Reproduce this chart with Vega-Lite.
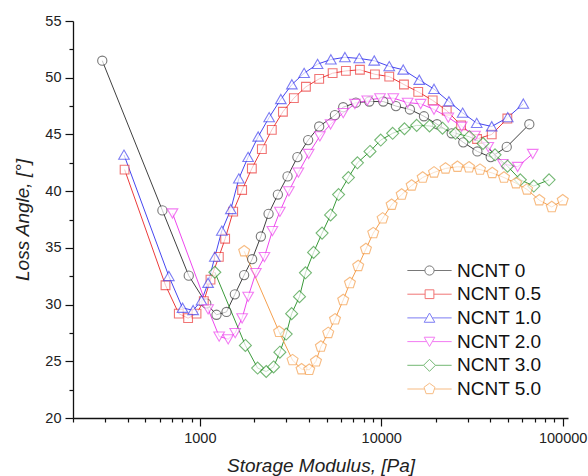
{
  "$schema": "https://vega.github.io/schema/vega-lite/v6.json",
  "width": 495,
  "height": 397,
  "autosize": "none",
  "padding": {"left": 73, "top": 21, "right": 20, "bottom": 58},
  "background": "white",
  "config": {
    "view": {"stroke": null},
    "font": "Liberation Sans",
    "axis": {"domainColor": "#111", "domainWidth": 1.3, "tickColor": "#111", "tickWidth": 1.2, "labelColor": "#222", "labelFont": "Liberation Sans", "labelFontSize": 14.5, "titleFont": "Liberation Sans", "titleFontSize": 19, "titleFontStyle": "italic", "titleFontWeight": "normal", "titleColor": "#222", "grid": false}
  },
  "data": {
    "values": [
      {"s": "NCNT 0", "x": 290, "y": 51.5}, {"s": "NCNT 0", "x": 622, "y": 38.3}, {"s": "NCNT 0", "x": 869, "y": 32.55}, {"s": "NCNT 0", "x": 1085, "y": 30.1}, {"s": "NCNT 0", "x": 1236, "y": 29.1}, {"s": "NCNT 0", "x": 1403, "y": 29.35}, {"s": "NCNT 0", "x": 1560, "y": 30.9}, {"s": "NCNT 0", "x": 1755, "y": 32.6}, {"s": "NCNT 0", "x": 1943, "y": 34.0}, {"s": "NCNT 0", "x": 2170, "y": 36.0}, {"s": "NCNT 0", "x": 2393, "y": 38.0}, {"s": "NCNT 0", "x": 2693, "y": 39.7}, {"s": "NCNT 0", "x": 3045, "y": 41.3}, {"s": "NCNT 0", "x": 3450, "y": 43.0}, {"s": "NCNT 0", "x": 3955, "y": 44.5}, {"s": "NCNT 0", "x": 4550, "y": 45.7}, {"s": "NCNT 0", "x": 5555, "y": 46.7}, {"s": "NCNT 0", "x": 6170, "y": 47.4}, {"s": "NCNT 0", "x": 7250, "y": 47.8}, {"s": "NCNT 0", "x": 8590, "y": 47.9}, {"s": "NCNT 0", "x": 10260, "y": 47.9}, {"s": "NCNT 0", "x": 12050, "y": 47.5}, {"s": "NCNT 0", "x": 14390, "y": 47.2}, {"s": "NCNT 0", "x": 17200, "y": 46.6}, {"s": "NCNT 0", "x": 20300, "y": 45.9}, {"s": "NCNT 0", "x": 24450, "y": 45.1}, {"s": "NCNT 0", "x": 28330, "y": 44.3}, {"s": "NCNT 0", "x": 33870, "y": 43.5}, {"s": "NCNT 0", "x": 40120, "y": 43.0}, {"s": "NCNT 0", "x": 49170, "y": 43.9}, {"s": "NCNT 0", "x": 65500, "y": 45.9},

      {"s": "NCNT 0.5", "x": 385, "y": 41.9}, {"s": "NCNT 0.5", "x": 647, "y": 31.7}, {"s": "NCNT 0.5", "x": 766, "y": 29.2}, {"s": "NCNT 0.5", "x": 862, "y": 28.8}, {"s": "NCNT 0.5", "x": 959, "y": 29.2}, {"s": "NCNT 0.5", "x": 1052, "y": 30.3}, {"s": "NCNT 0.5", "x": 1145, "y": 32.2}, {"s": "NCNT 0.5", "x": 1273, "y": 34.2}, {"s": "NCNT 0.5", "x": 1379, "y": 35.8}, {"s": "NCNT 0.5", "x": 1527, "y": 38.2}, {"s": "NCNT 0.5", "x": 1711, "y": 40.1}, {"s": "NCNT 0.5", "x": 1936, "y": 42.0}, {"s": "NCNT 0.5", "x": 2198, "y": 43.7}, {"s": "NCNT 0.5", "x": 2494, "y": 45.4}, {"s": "NCNT 0.5", "x": 2871, "y": 47.0}, {"s": "NCNT 0.5", "x": 3299, "y": 48.2}, {"s": "NCNT 0.5", "x": 3845, "y": 49.2}, {"s": "NCNT 0.5", "x": 4550, "y": 49.9}, {"s": "NCNT 0.5", "x": 5397, "y": 50.4}, {"s": "NCNT 0.5", "x": 6386, "y": 50.6}, {"s": "NCNT 0.5", "x": 7629, "y": 50.7}, {"s": "NCNT 0.5", "x": 9228, "y": 50.3}, {"s": "NCNT 0.5", "x": 11070, "y": 50.1}, {"s": "NCNT 0.5", "x": 13340, "y": 49.4}, {"s": "NCNT 0.5", "x": 15990, "y": 48.75}, {"s": "NCNT 0.5", "x": 19210, "y": 48.0}, {"s": "NCNT 0.5", "x": 22960, "y": 47.1}, {"s": "NCNT 0.5", "x": 27540, "y": 45.8}, {"s": "NCNT 0.5", "x": 33740, "y": 44.6}, {"s": "NCNT 0.5", "x": 40640, "y": 45.0}, {"s": "NCNT 0.5", "x": 49550, "y": 46.4},

      {"s": "NCNT 1.0", "x": 382, "y": 43.2}, {"s": "NCNT 1.0", "x": 675, "y": 32.5}, {"s": "NCNT 1.0", "x": 803, "y": 29.7}, {"s": "NCNT 1.0", "x": 919, "y": 29.5}, {"s": "NCNT 1.0", "x": 1022, "y": 30.35}, {"s": "NCNT 1.0", "x": 1111, "y": 31.9}, {"s": "NCNT 1.0", "x": 1210, "y": 34.2}, {"s": "NCNT 1.0", "x": 1322, "y": 36.5}, {"s": "NCNT 1.0", "x": 1483, "y": 38.4}, {"s": "NCNT 1.0", "x": 1641, "y": 41.1}, {"s": "NCNT 1.0", "x": 1846, "y": 43.0}, {"s": "NCNT 1.0", "x": 2097, "y": 44.8}, {"s": "NCNT 1.0", "x": 2411, "y": 46.5}, {"s": "NCNT 1.0", "x": 2797, "y": 48.1}, {"s": "NCNT 1.0", "x": 3217, "y": 49.4}, {"s": "NCNT 1.0", "x": 3758, "y": 50.4}, {"s": "NCNT 1.0", "x": 4457, "y": 51.2}, {"s": "NCNT 1.0", "x": 5278, "y": 51.6}, {"s": "NCNT 1.0", "x": 6308, "y": 51.8}, {"s": "NCNT 1.0", "x": 7566, "y": 51.7}, {"s": "NCNT 1.0", "x": 9150, "y": 51.5}, {"s": "NCNT 1.0", "x": 11070, "y": 51.0}, {"s": "NCNT 1.0", "x": 13220, "y": 50.7}, {"s": "NCNT 1.0", "x": 16200, "y": 49.8}, {"s": "NCNT 1.0", "x": 19540, "y": 49.0}, {"s": "NCNT 1.0", "x": 23620, "y": 47.9}, {"s": "NCNT 1.0", "x": 28100, "y": 46.9}, {"s": "NCNT 1.0", "x": 33580, "y": 46.0}, {"s": "NCNT 1.0", "x": 40640, "y": 45.7}, {"s": "NCNT 1.0", "x": 49800, "y": 46.5}, {"s": "NCNT 1.0", "x": 60700, "y": 47.7},

      {"s": "NCNT 2.0", "x": 707, "y": 38.05}, {"s": "NCNT 2.0", "x": 1111, "y": 29.6}, {"s": "NCNT 2.0", "x": 1278, "y": 27.2}, {"s": "NCNT 2.0", "x": 1433, "y": 26.95}, {"s": "NCNT 2.0", "x": 1566, "y": 27.5}, {"s": "NCNT 2.0", "x": 1711, "y": 28.8}, {"s": "NCNT 2.0", "x": 1847, "y": 30.7}, {"s": "NCNT 2.0", "x": 2037, "y": 32.8}, {"s": "NCNT 2.0", "x": 2270, "y": 34.2}, {"s": "NCNT 2.0", "x": 2512, "y": 36.5}, {"s": "NCNT 2.0", "x": 2762, "y": 38.2}, {"s": "NCNT 2.0", "x": 3097, "y": 40.0}, {"s": "NCNT 2.0", "x": 3494, "y": 41.65}, {"s": "NCNT 2.0", "x": 3982, "y": 43.3}, {"s": "NCNT 2.0", "x": 4589, "y": 44.85}, {"s": "NCNT 2.0", "x": 5258, "y": 45.9}, {"s": "NCNT 2.0", "x": 6171, "y": 46.9}, {"s": "NCNT 2.0", "x": 7158, "y": 47.7}, {"s": "NCNT 2.0", "x": 8373, "y": 48.0}, {"s": "NCNT 2.0", "x": 9843, "y": 48.2}, {"s": "NCNT 2.0", "x": 11650, "y": 48.2}, {"s": "NCNT 2.0", "x": 13985, "y": 47.8}, {"s": "NCNT 2.0", "x": 16490, "y": 47.7}, {"s": "NCNT 2.0", "x": 19540, "y": 47.2}, {"s": "NCNT 2.0", "x": 23420, "y": 46.5}, {"s": "NCNT 2.0", "x": 27770, "y": 45.7}, {"s": "NCNT 2.0", "x": 32870, "y": 44.9}, {"s": "NCNT 2.0", "x": 38900, "y": 43.9}, {"s": "NCNT 2.0", "x": 46770, "y": 42.4}, {"s": "NCNT 2.0", "x": 56500, "y": 42.15}, {"s": "NCNT 2.0", "x": 68390, "y": 43.3},

      {"s": "NCNT 3.0", "x": 1210, "y": 32.85}, {"s": "NCNT 3.0", "x": 1783, "y": 26.4}, {"s": "NCNT 3.0", "x": 2083, "y": 24.4}, {"s": "NCNT 3.0", "x": 2323, "y": 24.1}, {"s": "NCNT 3.0", "x": 2550, "y": 24.5}, {"s": "NCNT 3.0", "x": 2762, "y": 25.8}, {"s": "NCNT 3.0", "x": 2993, "y": 27.4}, {"s": "NCNT 3.0", "x": 3208, "y": 29.2}, {"s": "NCNT 3.0", "x": 3543, "y": 30.7}, {"s": "NCNT 3.0", "x": 3822, "y": 32.8}, {"s": "NCNT 3.0", "x": 4238, "y": 34.6}, {"s": "NCNT 3.0", "x": 4720, "y": 36.3}, {"s": "NCNT 3.0", "x": 5258, "y": 37.9}, {"s": "NCNT 3.0", "x": 5820, "y": 39.7}, {"s": "NCNT 3.0", "x": 6594, "y": 41.2}, {"s": "NCNT 3.0", "x": 7392, "y": 42.5}, {"s": "NCNT 3.0", "x": 8670, "y": 43.5}, {"s": "NCNT 3.0", "x": 9935, "y": 44.5}, {"s": "NCNT 3.0", "x": 11560, "y": 45.1}, {"s": "NCNT 3.0", "x": 13430, "y": 45.5}, {"s": "NCNT 3.0", "x": 15680, "y": 45.8}, {"s": "NCNT 3.0", "x": 18450, "y": 45.75}, {"s": "NCNT 3.0", "x": 21760, "y": 45.55}, {"s": "NCNT 3.0", "x": 25650, "y": 45.1}, {"s": "NCNT 3.0", "x": 30590, "y": 44.8}, {"s": "NCNT 3.0", "x": 36390, "y": 44.2}, {"s": "NCNT 3.0", "x": 42390, "y": 43.2}, {"s": "NCNT 3.0", "x": 49660, "y": 42.2}, {"s": "NCNT 3.0", "x": 58430, "y": 41.0}, {"s": "NCNT 3.0", "x": 69280, "y": 40.45}, {"s": "NCNT 3.0", "x": 84140, "y": 41.0},

      {"s": "NCNT 5.0", "x": 1756, "y": 34.7}, {"s": "NCNT 5.0", "x": 2735, "y": 27.6}, {"s": "NCNT 5.0", "x": 3245, "y": 25.1}, {"s": "NCNT 5.0", "x": 3638, "y": 24.3}, {"s": "NCNT 5.0", "x": 4009, "y": 24.25}, {"s": "NCNT 5.0", "x": 4368, "y": 25.0}, {"s": "NCNT 5.0", "x": 4649, "y": 26.3}, {"s": "NCNT 5.0", "x": 5102, "y": 27.5}, {"s": "NCNT 5.0", "x": 5560, "y": 28.7}, {"s": "NCNT 5.0", "x": 6171, "y": 30.4}, {"s": "NCNT 5.0", "x": 6720, "y": 31.9}, {"s": "NCNT 5.0", "x": 7464, "y": 33.4}, {"s": "NCNT 5.0", "x": 8234, "y": 34.9}, {"s": "NCNT 5.0", "x": 9035, "y": 36.3}, {"s": "NCNT 5.0", "x": 10180, "y": 37.6}, {"s": "NCNT 5.0", "x": 11410, "y": 38.8}, {"s": "NCNT 5.0", "x": 12960, "y": 39.7}, {"s": "NCNT 5.0", "x": 14710, "y": 40.5}, {"s": "NCNT 5.0", "x": 16920, "y": 41.2}, {"s": "NCNT 5.0", "x": 19540, "y": 41.65}, {"s": "NCNT 5.0", "x": 22610, "y": 42.0}, {"s": "NCNT 5.0", "x": 26300, "y": 42.15}, {"s": "NCNT 5.0", "x": 30460, "y": 42.1}, {"s": "NCNT 5.0", "x": 35030, "y": 41.9}, {"s": "NCNT 5.0", "x": 40930, "y": 41.6}, {"s": "NCNT 5.0", "x": 47500, "y": 41.2}, {"s": "NCNT 5.0", "x": 55330, "y": 40.7}, {"s": "NCNT 5.0", "x": 63640, "y": 40.15}, {"s": "NCNT 5.0", "x": 74370, "y": 39.2}, {"s": "NCNT 5.0", "x": 87080, "y": 38.6}, {"s": "NCNT 5.0", "x": 100100, "y": 39.2}
    ]
  },
  "encoding": {
    "x": {
      "field": "x", "type": "quantitative",
      "scale": {"type": "log", "domain": [200, 107000], "nice": false},
      "axis": {
        "title": "Storage Modulus, [Pa]",
        "values": [200, 300, 400, 500, 600, 700, 800, 900, 1000, 2000, 3000, 4000, 5000, 6000, 7000, 8000, 9000, 10000, 20000, 30000, 40000, 50000, 60000, 70000, 80000, 90000, 100000],
        "labelExpr": "indexof([1000, 10000, 100000], datum.value) >= 0 ? format(datum.value, 'd') : ''",
        "tickSize": {"condition": {"test": "indexof([1000, 10000, 100000], datum.value) >= 0", "value": 8}, "value": 4},
        "labelPadding": 5,
        "labelOverlap": false,
        "labelFlush": false,
        "titlePadding": 12
      }
    },
    "y": {
      "field": "y", "type": "quantitative",
      "scale": {"domain": [20, 55], "nice": false, "zero": false},
      "axis": {
        "title": "Loss Angle, [°]",
        "values": [20, 22.5, 25, 27.5, 30, 32.5, 35, 37.5, 40, 42.5, 45, 47.5, 50, 52.5, 55],
        "labelExpr": "datum.value % 5 === 0 ? datum.label : ''",
        "tickSize": {"condition": {"test": "datum.value % 5 === 0", "value": 8}, "value": 4},
        "labelPadding": 4,
        "labelOverlap": false,
        "labelFlush": false,
        "titlePadding": 12
      }
    },
    "color": {
      "field": "s", "type": "nominal",
      "scale": {
        "domain": ["NCNT 0", "NCNT 0.5", "NCNT 1.0", "NCNT 2.0", "NCNT 3.0", "NCNT 5.0"],
        "range": ["#404040", "#ec3b3b", "#4646f0", "#ee46ee", "#3a9a3a", "#f5a04f"]
      },
      "legend": {
        "title": null,
        "orient": "none",
        "legendX": 347,
        "legendY": 240,
        "padding": 0,
        "labelFont": "Liberation Sans",
        "labelFontSize": 19,
        "labelColor": "#111",
        "labelOffset": 18,
        "rowPadding": 3.7,
        "symbolSize": 85,
        "symbolStrokeWidth": 1,
        "symbolFillColor": "white"
      }
    }
  },
  "layer": [
    {
      "transform": [{"filter": "datum.x < 0"}],
      "mark": {"type": "point", "filled": false, "fill": "white", "strokeWidth": 1, "size": 85},
      "encoding": {
        "shape": {
          "field": "s", "type": "nominal",
          "scale": {
            "domain": ["NCNT 0", "NCNT 0.5", "NCNT 1.0", "NCNT 2.0", "NCNT 3.0", "NCNT 5.0"],
            "range": [
              "M-4.8,0L-1,0M1,0L4.8,0M1,0A1,1,0,1,1,-1,0A1,1,0,1,1,1,0Z",
              "M-4.8,0L-0.95,0M0.95,0L4.8,0M-0.95,-0.95L0.95,-0.95L0.95,0.95L-0.95,0.95Z",
              "M-4.8,0L-0.6,0M0.6,0L4.8,0M0,-1.05L1.15,0.95L-1.15,0.95Z",
              "M-4.8,0L-0.6,0M0.6,0L4.8,0M0,1.05L1.15,-0.95L-1.15,-0.95Z",
              "M-4.8,0L-1.3,0M1.3,0L4.8,0M0,-1.3L1.3,0L0,1.3L-1.3,0Z",
              "M-4.8,0L-1.06,0M1.06,0L4.8,0M0,-1.25L1.189,-0.386L0.735,1.011L-0.735,1.011L-1.189,-0.386Z"
            ]
          },
          "legend": null
        }
      }
    },
    {"mark": {"type": "line", "strokeWidth": 1}},
    {"transform": [{"filter": "datum.s === 'NCNT 0'"}], "mark": {"type": "point", "filled": false, "fill": "white", "strokeWidth": 1.1, "size": 85, "shape": "M1,0A1,1,0,1,1,-1,0A1,1,0,1,1,1,0Z"}},
    {"transform": [{"filter": "datum.s === 'NCNT 0.5'"}], "mark": {"type": "point", "filled": false, "fill": "white", "strokeWidth": 1.1, "size": 85, "shape": "M-0.95,-0.95L0.95,-0.95L0.95,0.95L-0.95,0.95Z"}},
    {"transform": [{"filter": "datum.s === 'NCNT 1.0'"}], "mark": {"type": "point", "filled": false, "fill": "white", "strokeWidth": 1.1, "size": 85, "shape": "M0,-1.05L1.15,0.95L-1.15,0.95Z"}},
    {"transform": [{"filter": "datum.s === 'NCNT 2.0'"}], "mark": {"type": "point", "filled": false, "fill": "white", "strokeWidth": 1.1, "size": 85, "shape": "M0,1.05L1.15,-0.95L-1.15,-0.95Z"}},
    {"transform": [{"filter": "datum.s === 'NCNT 3.0'"}], "mark": {"type": "point", "filled": false, "fill": "white", "strokeWidth": 1.1, "size": 85, "shape": "M0,-1.3L1.3,0L0,1.3L-1.3,0Z"}},
    {"transform": [{"filter": "datum.s === 'NCNT 5.0'"}], "mark": {"type": "point", "filled": false, "fill": "white", "strokeWidth": 1.1, "size": 85, "shape": "M0,-1.25L1.189,-0.386L0.735,1.011L-0.735,1.011L-1.189,-0.386Z"}}
  ]
}
